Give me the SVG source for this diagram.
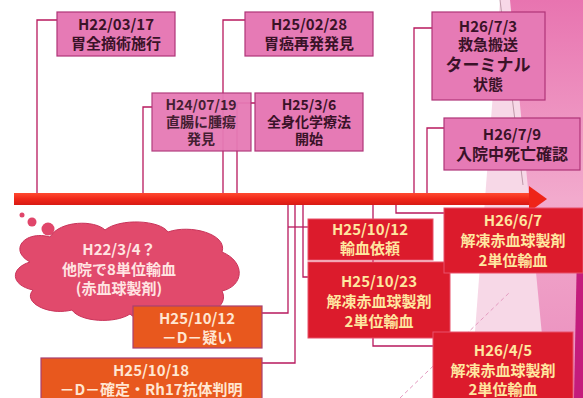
<svg xmlns="http://www.w3.org/2000/svg" width="583" height="398" viewBox="0 0 583 398">
<defs>
<linearGradient id="barG" x1="0" y1="0" x2="0" y2="1">
<stop offset="0" stop-color="#ff4a30"/>
<stop offset="0.5" stop-color="#f0281a"/>
<stop offset="1" stop-color="#d81a14"/>
</linearGradient>
<linearGradient id="bgG" x1="0" y1="0" x2="0" y2="1">
<stop offset="0" stop-color="#e874b0"/>
<stop offset="0.5" stop-color="#f2aacd"/>
<stop offset="1" stop-color="#ea8cbc"/>
</linearGradient>
<style>
text{font-family:"Noto Sans CJK JP","Noto Sans",sans-serif;font-weight:bold;text-anchor:middle;font-size:15px}
.pk rect{fill:#e67ab5;stroke:#b03478;stroke-width:1.2}
.pk text{fill:#3a1228}
.sm text{font-size:14px}
.or rect{fill:#e8581e;stroke:#a84070;stroke-width:1.2}
.or text{fill:#ffe6d2}
.rd rect{fill:#dc1b2c;stroke:#e8506a;stroke-width:1}
.rd text{fill:#ffe7a0}
.cl text{fill:#ffe4e2}
#connectors path{fill:none;stroke:#b8195e;stroke-width:1.3}
</style>
</defs>
<rect width="583" height="398" fill="#ffffff"/>
<g id="background">
<polygon points="500,0 583,0 583,398 470,398" fill="#f7d8e7"/>
<polygon points="510,0 583,0 583,398 548,398" fill="url(#bgG)"/>
<polygon points="577,250 583,245 583,398 574,398" fill="#c41c7c"/>
<line x1="500" y1="0" x2="523" y2="185" stroke="#b08898" stroke-width="0.8"/>
<line x1="400" y1="398" x2="510" y2="292" stroke="#e49ac0" stroke-width="1" stroke-dasharray="4 3"/>
</g>
<g id="connectors">
<path d="M57 20H37V194"/>
<path d="M245 20H223V194"/>
<path d="M152 107H143V194"/>
<path d="M255 103H237V194"/>
<path d="M432 28H414V194"/>
<path d="M444 128H427V194"/>
<path d="M288 204V313H262"/>
<path d="M295 204V363H262"/>
<path d="M288 227H308"/>
<path d="M303 204V277H308"/>
<path d="M396 204V213H444"/>
<path d="M373 204V346H433"/>
</g>
<g id="timeline">
<rect x="14" y="193" width="517" height="12" fill="url(#barG)"/>
<polygon points="529,186 547,199 529,212" fill="#ee2418"/>
</g>
<g id="n1" class="pk"><rect x="57" y="12" width="118" height="44"/><text x="116" y="30">H22/03/17</text><text x="116" y="49">胃全摘術施行</text></g>
<g id="n2" class="pk"><rect x="245" y="12" width="128" height="44"/><text x="309" y="30">H25/02/28</text><text x="309" y="49">胃癌再発発見</text></g>
<g id="n3" class="pk sm" opacity="0.95"><rect x="152" y="93" width="99" height="58"/><text x="201" y="110">H24/07/19</text><text x="201" y="127">直腸に腫瘍</text><text x="201" y="144">発見</text></g>
<g id="n4" class="pk sm"><rect x="255" y="93" width="108" height="58"/><text x="309" y="110">H25/3/6</text><text x="309" y="127">全身化学療法</text><text x="309" y="144">開始</text></g>
<g id="n5" class="pk"><rect x="432" y="12" width="113" height="88"/><text x="488" y="32">H26/7/3</text><text x="488" y="50">救急搬送</text><text x="488" y="71" style="font-size:17px">ターミナル</text><text x="488" y="90">状態</text></g>
<g id="n6" class="pk"><rect x="444" y="118" width="136" height="52"/><text x="512" y="140">H26/7/9</text><text x="512" y="160" style="font-size:16px">入院中死亡確認</text></g>
<g id="n7" class="cl">
<circle cx="22" cy="215" r="2.5" fill="#e0466a"/>
<circle cx="32" cy="222" r="4.5" fill="#e0466a"/>
<circle cx="48" cy="229" r="6.5" fill="#e0466a"/>
<path d="M30 262C8 250 25 230 50 237C60 220 95 220 105 230C120 218 160 220 168 232C190 224 228 234 222 252C246 262 244 286 222 291C230 307 205 320 185 310C175 324 140 324 130 314C115 324 80 322 72 310C48 316 22 302 33 290C10 285 10 268 30 262Z" fill="#e14a6c" stroke="#c9345a" stroke-width="1"/>
<text x="119" y="255">H22/3/4？</text><text x="119" y="275">他院で8単位輸血</text><text x="119" y="294">(赤血球製剤)</text>
</g>
<g id="n8" class="or"><rect x="133" y="306" width="129" height="42"/><text x="197" y="324">H25/10/12</text><text x="197" y="343">－D－疑い</text></g>
<g id="n9" class="or"><rect x="41" y="358" width="221" height="45"/><text x="151" y="376">H25/10/18</text><text x="151" y="395">－D－確定・Rh17抗体判明</text></g>
<g id="n10" class="rd"><rect x="308" y="219" width="125" height="41"/><text x="370" y="235">H25/10/12</text><text x="370" y="254">輸血依頼</text></g>
<g id="n11" class="rd"><rect x="308" y="262" width="142" height="76"/><text x="379" y="287">H25/10/23</text><text x="379" y="307">解凍赤血球製剤</text><text x="379" y="327">2単位輸血</text></g>
<g id="n12" class="rd"><rect x="444" y="208" width="139" height="65"/><text x="513" y="226">H26/6/7</text><text x="513" y="246">解凍赤血球製剤</text><text x="513" y="266">2単位輸血</text></g>
<g id="n13" class="rd"><rect x="433" y="332" width="140" height="70"/><text x="503" y="356">H26/4/5</text><text x="503" y="376">解凍赤血球製剤</text><text x="503" y="395">2単位輸血</text></g>
</svg>
